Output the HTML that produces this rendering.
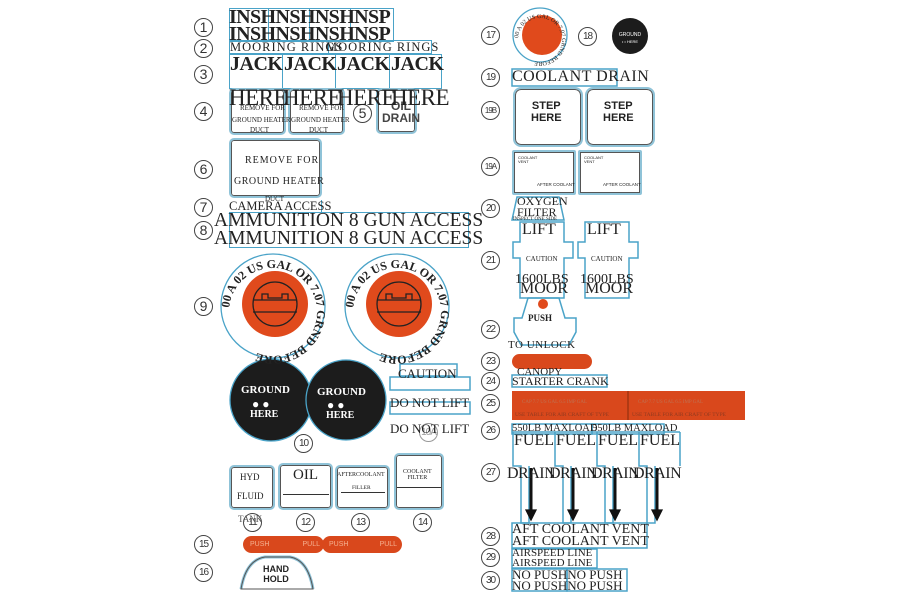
<!DOCTYPE html><html><head><meta charset="utf-8"><style>
body{margin:0;width:900px;height:600px;background:#fff;position:relative;overflow:hidden;font-family:"Liberation Serif",serif;color:#222}
div,span{position:absolute;box-sizing:border-box}
.n{width:19px;height:19px;border:1.3px solid #444;border-radius:50%;font:14px/17px "Liberation Sans",sans-serif;text-align:center;color:#333;margin:-9px 0 0 -9px}
.n.s{font-size:10px;letter-spacing:-1px}
.b{border:1.5px solid #4aa3c8}
.p{border:2px solid #8fc3d8;border-radius:5px;box-shadow:inset 0 0 0 1px #555}
.t{white-space:nowrap;line-height:1}
.or{background:#d9481c}
</style></head><body>
<div class="n" style="left:203px;top:27px">1</div>
<div class="n" style="left:203px;top:48px">2</div>
<div class="n" style="left:203px;top:74px">3</div>
<div class="n" style="left:203px;top:111px">4</div>
<div class="n" style="left:362px;top:113px">5</div>
<div class="n" style="left:203px;top:169px">6</div>
<div class="n" style="left:203px;top:207px">7</div>
<div class="n" style="left:203px;top:230px">8</div>
<div class="n" style="left:203px;top:306px">9</div>
<div class="n s" style="left:303px;top:443px">10</div>
<div class="n s" style="left:428px;top:432px;border-color:#999;color:#999">10A</div>
<div class="n s" style="left:252px;top:522px">11</div>
<div class="n s" style="left:305px;top:522px">12</div>
<div class="n s" style="left:360px;top:522px">13</div>
<div class="n s" style="left:422px;top:522px">14</div>
<div class="n s" style="left:203px;top:544px">15</div>
<div class="n s" style="left:203px;top:572px">16</div>
<div class="n s" style="left:490px;top:35px">17</div>
<div class="n s" style="left:587px;top:36px">18</div>
<div class="n s" style="left:490px;top:77px">19</div>
<div class="n s" style="left:490px;top:110px;font-size:8px">19B</div>
<div class="n s" style="left:490px;top:166px;font-size:8px">19A</div>
<div class="n s" style="left:490px;top:208px">20</div>
<div class="n s" style="left:490px;top:260px">21</div>
<div class="n s" style="left:490px;top:329px">22</div>
<div class="n s" style="left:490px;top:361px">23</div>
<div class="n s" style="left:490px;top:381px">24</div>
<div class="n s" style="left:490px;top:403px">25</div>
<div class="n s" style="left:490px;top:430px">26</div>
<div class="n s" style="left:490px;top:472px">27</div>
<div class="n s" style="left:490px;top:536px">28</div>
<div class="n s" style="left:490px;top:557px">29</div>
<div class="n s" style="left:490px;top:580px">30</div>

<div class="b" style="left:229px;top:8px;width:40px;height:34px"></div>
<div class="b" style="left:268px;top:8px;width:42px;height:34px"></div>
<div class="b" style="left:309px;top:8px;width:42px;height:34px"></div>
<div class="b" style="left:350px;top:8px;width:44px;height:34px"></div>
<div class="t" style="left:229px;top:7px;font-size:20px;font-weight:bold;letter-spacing:-0.6px">INSHNSHNSHNSP</div>
<div class="t" style="left:229px;top:24px;font-size:20px;font-weight:bold;letter-spacing:-0.6px">INSHNSHNSHNSP</div>
<div class="b" style="left:229px;top:40px;width:100px;height:14px"></div>
<div class="b" style="left:328px;top:40px;width:104px;height:14px"></div>
<div class="t" style="left:230px;top:41px;font-size:12.5px;letter-spacing:1px">MOORING RINGS</div>
<div class="t" style="left:326px;top:41px;font-size:12.5px;letter-spacing:1px">MOORING RINGS</div>
<div class="b" style="left:229px;top:54px;width:54px;height:35px"></div>
<div class="b" style="left:282px;top:54px;width:54px;height:35px"></div>
<div class="b" style="left:335px;top:54px;width:55px;height:35px"></div>
<div class="b" style="left:389px;top:54px;width:53px;height:35px"></div>
<div class="t" style="left:230px;top:54px;font-size:20px;font-weight:bold;letter-spacing:-0.5px">JACK</div>
<div class="t" style="left:284px;top:54px;font-size:20px;font-weight:bold;letter-spacing:-0.5px">JACK</div>
<div class="t" style="left:337px;top:54px;font-size:20px;font-weight:bold;letter-spacing:-0.5px">JACK</div>
<div class="t" style="left:391px;top:54px;font-size:20px;font-weight:bold;letter-spacing:-0.5px">JACK</div>
<div class="p" style="left:229px;top:88px;width:57px;height:47px"></div>
<div class="p" style="left:288px;top:88px;width:57px;height:47px"></div>
<div class="t" style="left:240px;top:105px;font-size:7px">REMOVE FOR</div>
<div class="t" style="left:299px;top:105px;font-size:7px">REMOVE FOR</div>
<div class="t" style="left:232px;top:117px;font-size:7px">GROUND HEATER</div>
<div class="t" style="left:291px;top:117px;font-size:7px">GROUND HEATER</div>
<div class="t" style="left:250px;top:127px;font-size:7px">DUCT</div>
<div class="t" style="left:309px;top:127px;font-size:7px">DUCT</div>
<div class="p" style="left:376px;top:88px;width:41px;height:46px"></div>
<div class="t" style="left:382px;top:100px;font:bold 12px/1 'Liberation Sans',sans-serif;text-align:center;color:#444">OIL<br>DRAIN</div>
<div class="t" style="left:229px;top:86px;font-size:23px;letter-spacing:-0.5px">HERE</div>
<div class="t" style="left:283px;top:86px;font-size:23px;letter-spacing:-0.5px">HERE</div>
<div class="t" style="left:337px;top:86px;font-size:23px;letter-spacing:-0.5px">HERE</div>
<div class="t" style="left:391px;top:86px;font-size:23px;letter-spacing:-0.5px">HERE</div>
<div class="p" style="left:229px;top:138px;width:93px;height:60px"></div>
<div class="t" style="left:245px;top:156px;font-size:10px;letter-spacing:1px">REMOVE FOR</div>
<div class="t" style="left:234px;top:177px;font-size:10px;letter-spacing:0.5px">GROUND HEATER</div>
<div class="t" style="left:265px;top:196px;font-size:7px">DUCT</div>
<div class="b" style="left:229px;top:200px;width:93px;height:13px;border-width:0 1.5px 0 0"></div>
<div class="t" style="left:229px;top:200px;font-size:12.5px">CAMERA ACCESS</div>
<div class="b" style="left:229px;top:212px;width:240px;height:36px"></div>
<div class="t" style="left:214px;top:211px;font-size:19.5px">AMMUNITION 8 GUN ACCESS</div>
<div class="t" style="left:214px;top:229px;font-size:19.5px">AMMUNITION 8 GUN ACCESS</div>

<svg style="position:absolute;left:0;top:0" width="900" height="600">
<defs>
<path id="c1" d="M229 312 A44 44 0 1 1 317 312 A44 44 0 1 1 229 312"/>
<path id="c2" d="M353 312 A44 44 0 1 1 441 312 A44 44 0 1 1 353 312"/>
<path id="c3" d="M518 40 A22 22 0 1 1 562 40 A22 22 0 1 1 518 40"/>
</defs>
<g fill="none" stroke="#222" stroke-width="1.3">
<circle cx="273" cy="306" r="52" stroke="#4aa3c8"/>
<circle cx="397" cy="306" r="52" stroke="#4aa3c8"/>
<circle cx="275" cy="304" r="33" fill="#e04a1c" stroke="none"/>
<circle cx="399" cy="304" r="33" fill="#e04a1c" stroke="none"/>
<circle cx="275" cy="304" r="22"/><circle cx="399" cy="304" r="22"/>
<path d="M253 300h44M253 312h44M262 300v-6h6v4h14v-4h6v6M377 300h44M377 312h44M386 300v-6h6v4h14v-4h6v6"/>
<circle cx="540" cy="35" r="27" stroke="#4aa3c8"/>
<circle cx="542" cy="35" r="20" fill="#e04a1c" stroke="none"/>
<circle cx="630" cy="36" r="18" fill="#1c1c1c" stroke="none"/>
<circle cx="271" cy="400" r="41" fill="#1c1c1c" stroke="#4aa3c8"/>
<circle cx="346" cy="400" r="40" fill="#1c1c1c" stroke="#4aa3c8"/>
<circle cx="543" cy="304" r="5" fill="#e04a1c" stroke="none"/>
<path d="M241 589 Q246 560 265 557 H290 Q308 560 313 589" stroke="#8fc3d8" stroke-width="3"/>
<path d="M241 589 Q246 560 265 557 H290 Q308 560 313 589 Z" stroke="#555" stroke-width="1"/>
<g stroke="#4aa3c8" stroke-width="1.5">
<path d="M520 222h44v20h9v16h-9v40h-44v-40h-7v-16h7z"/>
<path d="M585 222h44v20h9v16h-9v40h-44v-40h-7v-16h7z"/>
<path d="M528 298h31l6 20h11v14l-7 13h-48l-7-13v-14h8z"/>
<path d="M517 197h42l5 23h-52z"/>
<path d="M513 432v34h8v57h8v-57M555 432v34h8v57h8v-57M597 432v34h8v57h8v-57M639 432v34h8v57h8v-57M680 432v34M512 432h168"/>
<rect x="512" y="523" width="135" height="25"/>
<rect x="512" y="549" width="85" height="19"/>
<rect x="512" y="569" width="55" height="22"/><rect x="567" y="569" width="60" height="22"/>
<rect x="512" y="424" width="80" height="10"/><rect x="592" y="424" width="72" height="10"/>
<rect x="512" y="375" width="95" height="12"/>
<rect x="512" y="69" width="105" height="17"/>
<rect x="400" y="364" width="57" height="12"/><rect x="390" y="377" width="80" height="13"/><rect x="390" y="402" width="80" height="12"/>
</g>
<g fill="#111" stroke="#111"><path d="M531 468v45M573 468v45M615 468v45M657 468v45" stroke-width="3"/>
<path d="M526 510h10l-5 10zM568 510h10l-5 10zM610 510h10l-5 10zM652 510h10l-5 10z"/></g>
</g>
<g font-family="Liberation Serif" font-size="12" fill="#222" font-weight="bold">
<text><textPath href="#c1" startOffset="4">00 A 02 US GAL OR  7.07    GRND BEFORE</textPath></text>
<text><textPath href="#c2" startOffset="4">00 A 02 US GAL OR  7.07    GRND BEFORE</textPath></text>
<text font-size="6" font-weight="normal"><textPath href="#c3" startOffset="2">00 A 02 US GAL OR 7.07  GRND BEFORE</textPath></text>
</g>
<text x="630" y="36" font-family="Liberation Sans" font-size="5" fill="#fff" text-anchor="middle">GROUND</text>
<text x="630" y="43" font-family="Liberation Sans" font-size="4" fill="#fff" text-anchor="middle">• • HERE</text>
</svg>
<div class="t" style="left:241px;top:385px;font:bold 11px/1 'Liberation Serif',serif;color:#fff">GROUND</div>
<div class="t" style="left:317px;top:387px;font:bold 11px/1 'Liberation Serif',serif;color:#fff">GROUND</div>
<div class="t" style="left:252px;top:398px;font-size:12px;color:#fff">● ●</div>
<div class="t" style="left:327px;top:399px;font-size:12px;color:#fff">● ●</div>
<div class="t" style="left:250px;top:410px;font:bold 10px/1 'Liberation Serif',serif;color:#fff">HERE</div>
<div class="t" style="left:326px;top:411px;font:bold 10px/1 'Liberation Serif',serif;color:#fff">HERE</div>
<div class="t" style="left:398px;top:367px;font-size:13px">CAUTION</div>
<div class="t" style="left:390px;top:396px;font-size:13px">DO NOT LIFT</div>
<div class="t" style="left:390px;top:422px;font-size:13px">DO NOT LIFT</div>

<div class="p" style="left:229px;top:465px;width:46px;height:45px"></div>
<div class="t" style="left:240px;top:473px;font-size:9px">HYD</div>
<div class="t" style="left:237px;top:492px;font-size:9px">FLUID</div>
<div class="t" style="left:238px;top:515px;font-size:9px;color:#555">TANK</div>
<div class="p" style="left:278px;top:463px;width:55px;height:47px"></div>
<div class="t" style="left:293px;top:468px;font-size:15px">OIL</div>
<div style="left:283px;top:494px;width:46px;border-top:1.5px solid #333"></div>
<div class="p" style="left:335px;top:465px;width:55px;height:45px"></div>
<div class="t" style="left:337px;top:472px;font-size:6px">AFTERCOOLANT</div>
<div class="t" style="left:352px;top:486px;font-size:5.5px">FILLER</div>
<div style="left:341px;top:492px;width:44px;border-top:1.5px solid #333"></div>
<div class="p" style="left:394px;top:453px;width:50px;height:57px"></div>
<div class="t" style="left:403px;top:469px;font-size:6px;text-align:center">COOLANT<br>FILTER</div>
<div style="left:397px;top:487px;width:44px;border-top:1.5px solid #333"></div>
<div class="or" style="left:243px;top:536px;width:81px;height:17px;border-radius:9px"></div>
<div class="or" style="left:322px;top:536px;width:80px;height:17px;border-radius:9px"></div>
<div class="t" style="left:250px;top:541px;font:7px/1 'Liberation Sans',sans-serif;color:#f5b090">PUSH&nbsp;&nbsp;&nbsp;&nbsp;&nbsp;&nbsp;&nbsp;&nbsp;&nbsp;&nbsp;&nbsp;&nbsp;&nbsp;&nbsp;&nbsp;&nbsp;&nbsp;PULL</div>
<div class="t" style="left:329px;top:541px;font:7px/1 'Liberation Sans',sans-serif;color:#f5b090">PUSH&nbsp;&nbsp;&nbsp;&nbsp;&nbsp;&nbsp;&nbsp;&nbsp;&nbsp;&nbsp;&nbsp;&nbsp;&nbsp;&nbsp;&nbsp;&nbsp;PULL</div>
<div class="t" style="left:263px;top:565px;font:bold 9px/1.1 'Liberation Sans',sans-serif;text-align:center">HAND<br>HOLD</div>

<div class="t" style="left:512px;top:69px;font-size:16px;letter-spacing:0.5px">COOLANT DRAIN</div>
<div class="p" style="left:513px;top:87px;width:70px;height:60px;border-radius:8px"></div>
<div class="p" style="left:585px;top:87px;width:70px;height:60px;border-radius:8px"></div>
<div class="t" style="left:531px;top:100px;font:bold 11px/1.1 'Liberation Sans',sans-serif;text-align:center">STEP<br>HERE</div>
<div class="t" style="left:603px;top:100px;font:bold 11px/1.1 'Liberation Sans',sans-serif;text-align:center">STEP<br>HERE</div>
<div class="p" style="left:512px;top:150px;width:64px;height:45px;border-radius:2px"></div>
<div class="p" style="left:578px;top:150px;width:64px;height:45px;border-radius:2px"></div>
<div class="t" style="left:518px;top:156px;font:4px/1 'Liberation Sans',sans-serif">COOLANT<br>VENT</div>
<div class="t" style="left:584px;top:156px;font:4px/1 'Liberation Sans',sans-serif">COOLANT<br>VENT</div>
<div class="t" style="left:537px;top:183px;font:4.5px/1 'Liberation Sans',sans-serif">AFTER COOLANT</div>
<div class="t" style="left:603px;top:183px;font:4.5px/1 'Liberation Sans',sans-serif">AFTER COOLANT</div>
<div class="t" style="left:517px;top:196px;font-size:12px;line-height:0.95">OXYGEN<br>FILTER</div>
<div class="t" style="left:513px;top:217px;font-size:5px">INSPECT ONE SIDE</div>
<div class="t" style="left:522px;top:222px;font-size:16px">LIFT</div>
<div class="t" style="left:587px;top:222px;font-size:16px">LIFT</div>
<div class="t" style="left:526px;top:256px;font-size:7px">CAUTION</div>
<div class="t" style="left:591px;top:256px;font-size:7px">CAUTION</div>
<div class="t" style="left:515px;top:273px;font-size:14px">1600LBS</div>
<div class="t" style="left:580px;top:273px;font-size:14px">1600LBS</div>
<div class="t" style="left:520px;top:281px;font-size:16px">MOOR</div>
<div class="t" style="left:585px;top:281px;font-size:16px">MOOR</div>
<div class="t" style="left:528px;top:314px;font-size:9px;font-weight:bold">PUSH</div>
<div class="t" style="left:508px;top:340px;font-size:11px;letter-spacing:0.5px">TO UNLOCK</div>
<div class="or" style="left:512px;top:354px;width:80px;height:15px;border-radius:8px"></div>
<div class="t" style="left:517px;top:367px;font-size:11px">CANOPY</div>
<div class="t" style="left:512px;top:375px;font-size:12px">STARTER CRANK</div>
<div class="or" style="left:512px;top:391px;width:233px;height:29px"></div>
<div style="left:627px;top:391px;width:2px;height:29px;background:#b03a14"></div>
<div class="t" style="left:522px;top:400px;font-size:5px;color:#c07050">CAP 7.7 US GAL 6.5 IMP GAL</div>
<div class="t" style="left:638px;top:400px;font-size:5px;color:#c07050">CAP 7.7 US GAL 6.5 IMP GAL</div>
<div class="t" style="left:515px;top:413px;font-size:5.5px;color:#903a20">USE TABLE FOR AIR CRAFT OF TYPE</div>
<div class="t" style="left:632px;top:413px;font-size:5.5px;color:#903a20">USE TABLE FOR AIR CRAFT OF TYPE</div>
<div class="t" style="left:512px;top:424px;font-size:10.5px">550LB MAXLOAD</div>
<div class="t" style="left:592px;top:424px;font-size:10.5px">550LB MAXLOAD</div>
<div class="t" style="left:514px;top:433px;font-size:16px">FUEL</div>
<div class="t" style="left:556px;top:433px;font-size:16px">FUEL</div>
<div class="t" style="left:598px;top:433px;font-size:16px">FUEL</div>
<div class="t" style="left:640px;top:433px;font-size:16px">FUEL</div>
<div class="t" style="left:507px;top:466px;font-size:16px;letter-spacing:-0.5px">DRAIN</div>
<div class="t" style="left:549px;top:466px;font-size:16px;letter-spacing:-0.5px">DRAIN</div>
<div class="t" style="left:591px;top:466px;font-size:16px;letter-spacing:-0.5px">DRAIN</div>
<div class="t" style="left:633px;top:466px;font-size:16px;letter-spacing:-0.5px">DRAIN</div>
<div class="t" style="left:512px;top:523px;font-size:14px">AFT COOLANT VENT</div>
<div class="t" style="left:512px;top:535px;font-size:14px">AFT COOLANT VENT</div>
<div class="t" style="left:512px;top:548px;font-size:11px">AIRSPEED LINE</div>
<div class="t" style="left:512px;top:558px;font-size:11px">AIRSPEED LINE</div>
<div class="t" style="left:512px;top:568px;font-size:13px">NO PUSHNO PUSH</div>
<div class="t" style="left:512px;top:579px;font-size:13px">NO PUSHNO PUSH</div>
</body></html>
